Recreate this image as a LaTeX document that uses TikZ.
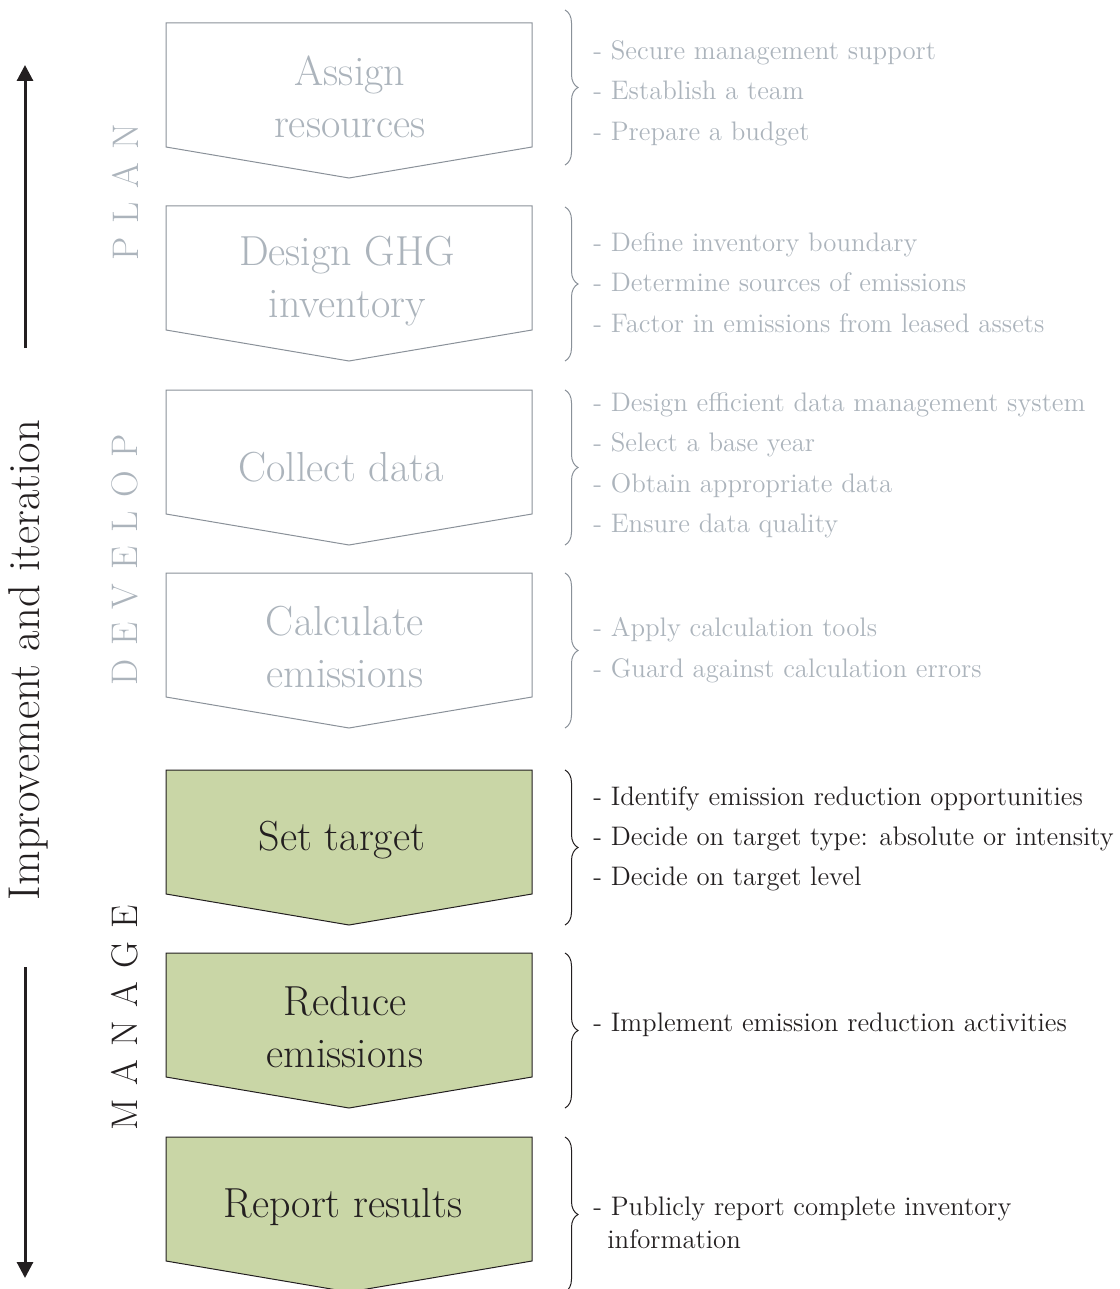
\documentclass[tikz,border=0pt]{standalone}
\usepackage{fontspec}
\setmainfont{Latin Modern Roman}
\usetikzlibrary{arrows.meta,decorations.pathreplacing}
\definecolor{pale}{RGB}{172,180,188}
\definecolor{frame}{RGB}{138,145,153}
\definecolor{leaf}{RGB}{201,214,166}
\definecolor{ink}{RGB}{35,31,32}
\def\chevron{-- ++(366,0) -- ++(0,124) -- ++(-183,31) -- ++(-183,-31) -- cycle}
\def\spaced{\addfontfeature{LetterSpace=37}}

\begin{document}
\begin{tikzpicture}[x=0.5pt,y=-0.5pt,
  oldbox/.style={draw=frame,line width=0.5pt,fill=white},
  newbox/.style={draw=ink,line width=0.5pt,fill=leaf},
  title/.style={font=\fontsize{21}{26}\selectfont,align=center,anchor=base,inner sep=0pt},
  item/.style={font=\fontsize{13.4}{16.5}\selectfont,anchor=base west,inner sep=0pt},
  phase/.style={font=\fontsize{18.5}{22}\selectfont\spaced,rotate=90,pale,inner sep=0pt},
  brc/.style={decorate,decoration={brace,amplitude=6.5pt},line width=0.5pt},
  loop/.style={line width=1.5pt,ink,-{Triangle[width=8pt,length=8pt]}}]
\useasboundingbox (0,0) rectangle (1119,1289);

% steps
\draw[oldbox] (166,23) \chevron;
\draw[oldbox] (166,206) \chevron;
\draw[oldbox] (166,390) \chevron;
\draw[oldbox] (166,573) \chevron;
\draw[newbox] (166,770) \chevron;
\draw[newbox] (166,953) \chevron;
\draw[newbox] (166,1137) \chevron;

% base anchor sits on the last line
\node[title,pale] (assign) at (350,138) {Assign\\resources};
\node[title,pale] (design) at (347,317) {Design GHG\\inventory};
\node[title,pale] (collect) at (341,481) {Collect data};
\node[title,pale] (calc) at (345,687) {Calculate\\emissions};
\node[title,ink] (target) at (342,850) {Set target};
\node[title,ink] (reduce) at (345,1067) {Reduce\\emissions};
\node[title,ink] (report) at (343,1217) {Report results};

% braces
\draw[brc,frame] (565,10) -- (565,165);
\draw[brc,frame] (565,207) -- (565,361);
\draw[brc,frame] (565,390) -- (565,545);
\draw[brc,frame] (565,573) -- (565,728);
\draw[brc,ink] (565,770) -- (565,925);
\draw[brc,ink] (565,953) -- (565,1108);
\draw[brc,ink] (565,1137) -- (565,1292);

% tasks
\node[item,pale] (a1) at (593,60) {- Secure management support};
\node[item,pale] (a2) at (593,100) {- Establish a team};
\node[item,pale] (a3) at (593,141) {- Prepare a budget};
\node[item,pale] (d1) at (593,251) {- Define inventory boundary};
\node[item,pale] (d2) at (593,291) {- Determine sources of emissions};
\node[item,pale] (d3) at (593,332) {- Factor in emissions from leased assets};
\node[item,pale] (c1) at (593,411) {- Design efficient data management system};
\node[item,pale] (c2) at (593,451) {- Select a base year};
\node[item,pale] (c3) at (593,492) {- Obtain appropriate data};
\node[item,pale] (c4) at (593,532) {- Ensure data quality};
\node[item,pale] (e1) at (593,636) {- Apply calculation tools};
\node[item,pale] (e2) at (593,677) {- Guard against calculation errors};
\node[item,ink] (t1) at (593,805) {- Identify emission reduction opportunities};
\node[item,ink] (t2) at (593,845) {- Decide on target type: absolute or intensity};
\node[item,ink] (t3) at (593,885) {- Decide on target level};
\node[item,ink] (r1) at (593,1031) {- Implement emission reduction activities};
\node[item,ink,align=left] (p1) at (593,1248) {- Publicly report complete inventory\\\hspace*{7pt}information};

% phases
\node[phase] (plan) at (125,192) {PLAN};
\node[phase] (develop) at (125,560) {DEVELOP};
\node[phase,ink] (manage) at (125,1018) {MANAGE};

% loop arrows
\node[font=\fontsize{22.3}{26}\selectfont,rotate=90,ink,inner sep=0pt] (iter) at (28,660) {Improvement and iteration};
\coordinate (up) at (25,65);
\coordinate (down) at (25,1278);
\draw[loop] (25,348) -- (up);
\draw[loop] (25,967) -- (down);
\end{tikzpicture}
\end{document}
